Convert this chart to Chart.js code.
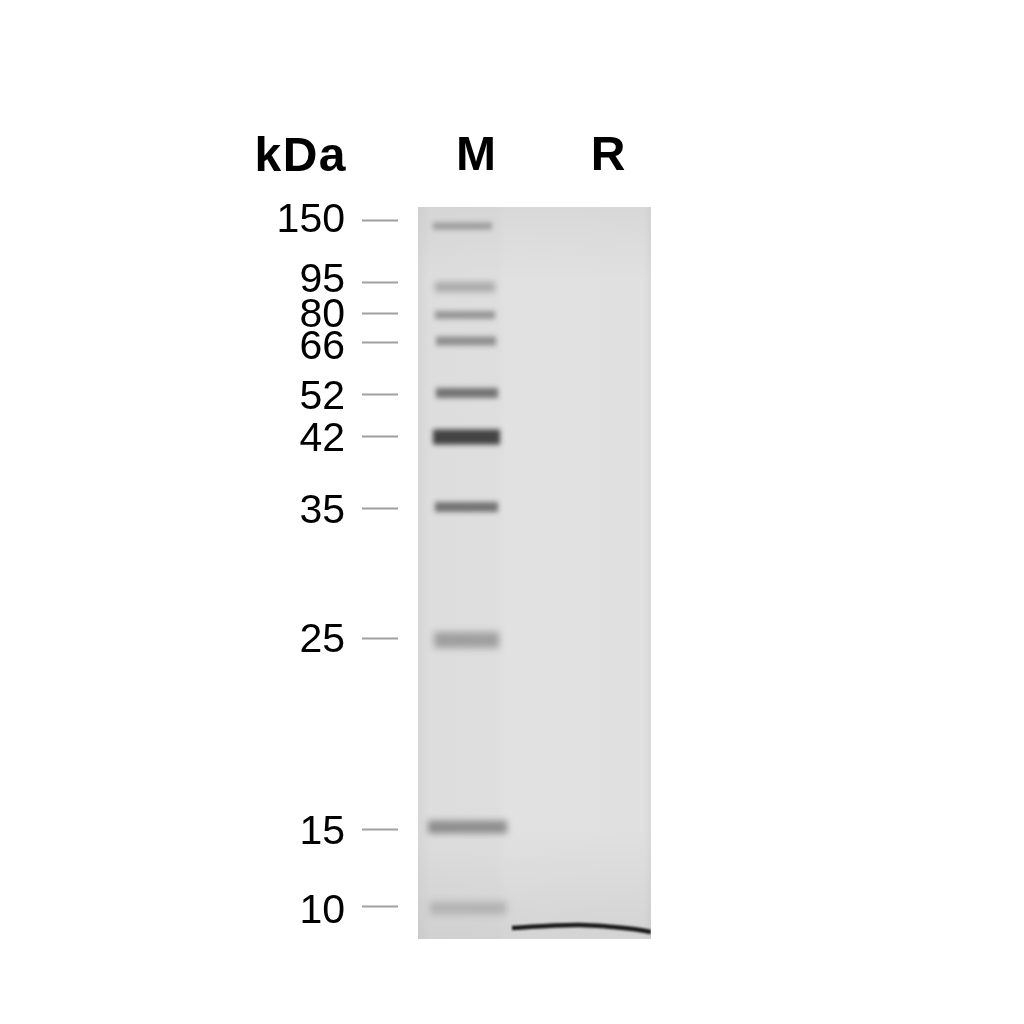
<!DOCTYPE html>
<html>
<head>
<meta charset="utf-8">
<title>SDS-PAGE gel</title>
<script src="https://cdn.jsdelivr.net/npm/chart.js@4"></script>
<style>
  html, body { margin: 0; padding: 0; background: #fff; }
  #wrap { width: 1024px; height: 1024px; }
</style>
</head>
<body>
<div id="wrap"><canvas id="gel"></canvas></div>
<script>
// marker ladder, kDa
const kdaLabels = ['150', '95', '80', '66', '52', '42', '35', '25', '15', '10'];
// migration distance from the top of the gel
const tickMigration = [13, 75, 106, 135, 187, 229, 301, 431, 622, 699];
const labelMigration = [14, 74, 109, 141, 191, 233, 305, 434, 626, 705];
const bandMigration = [19, 80, 108, 134, 186, 230, 300, 433, 620, 701];
// band extent across the lane
const bandLeft = [15, 17, 17, 18, 18, 15, 17, 16, 10, 12];
const bandRight = [74, 77, 77, 78, 80, 82, 80, 81, 89, 89];
const bandStain = [0.36, 0.3, 0.42, 0.46, 0.62, 0.9, 0.62, 0.36, 0.46, 0.2];
// sample band in lane R
const sampleX = [94, 129, 162, 195, 215, 233];
const sampleMigration = [721, 719, 718, 720, 722, 725];

const laneNames = ['M', 'R'];
const laneCenters = [58, 190];

const bandThickness = [7, 10, 8, 9, 10, 15, 10, 16, 13, 13];
const bandBlur = [2.5, 3, 2.5, 2.5, 2.5, 2.5, 2.5, 3.5, 3, 3.5];

const datasets = kdaLabels.map((kda, i) => ({
  label: kda + ' kDa',
  data: [
    { x: bandLeft[i], y: bandMigration[i] },
    { x: bandRight[i], y: bandMigration[i] }
  ],
  borderColor: `rgba(50, 50, 50, ${bandStain[i]})`,
  borderWidth: bandThickness[i],
  blur: bandBlur[i]
}));

datasets.push({
  label: 'R',
  data: sampleX.map((x, i) => ({ x: x, y: sampleMigration[i] })),
  borderColor: 'rgba(25, 25, 25, 1)',
  borderWidth: 4.5,
  tension: 0.4,
  blur: 1
});

const gelPlugin = {
  id: 'gel',
  beforeDatasetsDraw(chart) {
    const { ctx, scales: { x, y } } = chart;
    const left = x.getPixelForValue(0), right = x.getPixelForValue(233);
    const top = y.getPixelForValue(0), bottom = y.getPixelForValue(732);
    ctx.save();
    const across = ctx.createLinearGradient(left, 0, right, 0);
    across.addColorStop(0, '#d6d6d6');
    across.addColorStop(0.05, '#dddddd');
    across.addColorStop(0.34, '#dedede');
    across.addColorStop(0.38, '#e1e1e1');
    across.addColorStop(0.97, '#e0e0e0');
    across.addColorStop(1, '#d8d8d8');
    ctx.fillStyle = across;
    ctx.fillRect(left, top, right - left, bottom - top);
    const down = ctx.createLinearGradient(0, top, 0, bottom);
    down.addColorStop(0, 'rgba(120,120,120,0.08)');
    down.addColorStop(0.1, 'rgba(120,120,120,0)');
    down.addColorStop(0.85, 'rgba(120,120,120,0)');
    down.addColorStop(1, 'rgba(120,120,120,0.12)');
    ctx.fillStyle = down;
    ctx.fillRect(left, top, right - left, bottom - top);
    ctx.restore();
  },
  beforeDatasetDraw(chart, args) {
    chart.ctx.save();
    chart.ctx.filter = `blur(${args.meta.controller.getDataset().blur}px)`;
  },
  afterDatasetDraw(chart) {
    chart.ctx.restore();
  },
  afterDraw(chart) {
    const ctx = chart.ctx;
    ctx.save();
    ctx.font = 'bold 48px "Liberation Sans"';
    ctx.letterSpacing = '1.5px';
    ctx.fillStyle = '#000';
    ctx.textAlign = 'right';
    ctx.textBaseline = 'alphabetic';
    ctx.fillText('kDa', 347, 171);
    ctx.restore();
  }
};

new Chart(document.getElementById('gel'), {
  type: 'scatter',
  data: { datasets: datasets },
  plugins: [gelPlugin],
  options: {
    responsive: true,
    maintainAspectRatio: false,
    animation: false,
    showLine: true,
    layout: { padding: { left: 0, top: 0, right: 373, bottom: 85 } },
    elements: { point: { radius: 0 }, line: { borderCapStyle: 'butt' } },
    plugins: { legend: { display: false }, tooltip: { enabled: false } },
    scales: {
      x: {
        type: 'linear',
        position: 'top',
        min: -20,
        max: 233,
        border: { display: false },
        grid: { display: false },
        afterFit: scale => { scale.height = 207; },
        afterBuildTicks: scale => { scale.ticks = laneCenters.map(v => ({ value: v })); },
        ticks: {
          autoSkip: false,
          maxRotation: 0,
          padding: 13,
          color: '#000',
          font: { family: '"Liberation Sans"', size: 48, weight: 'bold' },
          callback: (value, i) => laneNames[i]
        }
      },
      y: {
        type: 'linear',
        position: 'left',
        reverse: true,
        min: 0,
        max: 732,
        weight: 0,
        border: { display: false },
        grid: { drawOnChartArea: false, tickLength: 36, tickWidth: 2, tickColor: '#a0a0a0' },
        afterFit: scale => { scale.width = 45; },
        afterBuildTicks: scale => { scale.ticks = tickMigration.map(v => ({ value: v })); },
        ticks: { display: false, autoSkip: false }
      },
      yLabels: {
        type: 'linear',
        position: 'left',
        reverse: true,
        min: 0,
        max: 732,
        weight: 1,
        border: { display: false },
        grid: { display: false },
        afterFit: scale => { scale.width = 353; },
        afterBuildTicks: scale => { scale.ticks = labelMigration.map(v => ({ value: v })); },
        ticks: {
          autoSkip: false,
          padding: 0,
          color: '#000',
          font: { family: '"Liberation Sans"', size: 41 },
          callback: (value, i) => kdaLabels[i]
        }
      }
    }
  }
});
</script>
</body>
</html>
